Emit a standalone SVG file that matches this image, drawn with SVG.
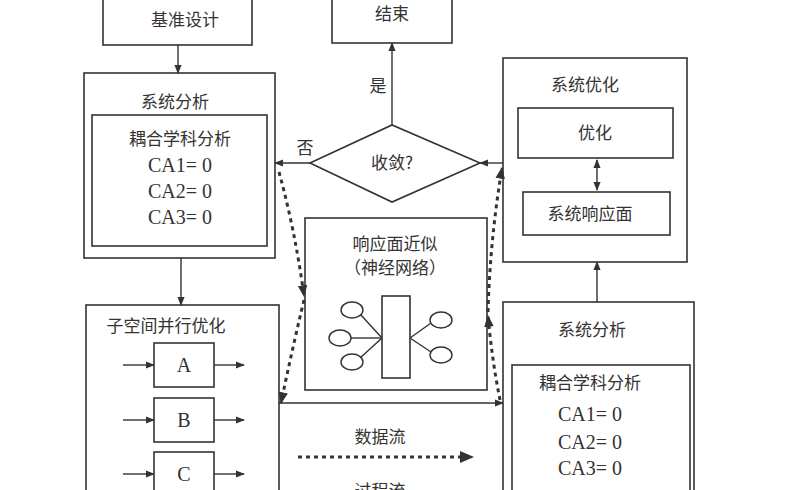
<svg xmlns="http://www.w3.org/2000/svg" width="785" height="490" viewBox="0 0 785 490">
<style>
.b{fill:#fff;stroke:#333;stroke-width:1.6}
.l{fill:none;stroke:#333;stroke-width:1.4}
.d{fill:none;stroke:#333;stroke-width:3;stroke-dasharray:4 4}
text{font-family:"Noto Sans CJK SC","Liberation Serif",serif;font-size:17px;fill:#333;text-anchor:middle}
.ca{font-family:"Liberation Serif",serif;font-size:20px}
</style>
<defs>
<marker id="a" viewBox="0 0 10 10" refX="9" refY="5" markerWidth="9" markerHeight="9" markerUnits="userSpaceOnUse" orient="auto-start-reverse"><path d="M0,1L10,5L0,9z" fill="#333"/></marker>
<marker id="ab" viewBox="0 0 10 10" refX="9" refY="5" markerWidth="12" markerHeight="12" markerUnits="userSpaceOnUse" orient="auto-start-reverse"><path d="M0,1L10,5L0,9z" fill="#333"/></marker>
</defs>
<rect width="785" height="490" fill="#fff"/>
<g id="n-base"><rect class="b" x="103" y="-5" width="149" height="50"/><text x="185" y="26">基准设计</text></g>
<g id="n-end"><rect class="b" x="332" y="-5" width="120" height="48"/><text x="392" y="20">结束</text></g>
<g id="n-sa1"><rect class="b" x="84" y="73" width="191" height="185"/><text x="175" y="108">系统分析</text>
<rect class="b" x="92" y="115" width="175" height="131"/><text x="180" y="145">耦合学科分析</text>
<text class="ca" x="180" y="172">CA1= 0</text><text class="ca" x="180" y="198">CA2= 0</text><text class="ca" x="180" y="224">CA3= 0</text></g>
<g id="n-conv"><polygon class="b" points="310,163 392,125 480,163 392,202"/><text x="392" y="169">收敛?</text></g>
<g id="n-sysopt"><rect class="b" x="503" y="58" width="184" height="204"/><text x="585" y="91">系统优化</text>
<rect class="b" x="518" y="108" width="155" height="50"/><text x="595" y="139">优化</text>
<rect class="b" x="523" y="192" width="147" height="43"/><text x="590" y="220">系统响应面</text></g>
<g id="n-rs"><rect class="b" x="305" y="218" width="182" height="172"/><text x="395" y="250">响应面近似</text><text x="395" y="274">（神经网络）</text>
<g class="l"><line x1="382" y1="338" x2="360" y2="314"/><line x1="382" y1="338" x2="351" y2="338"/><line x1="382" y1="338" x2="360" y2="358"/><line x1="410" y1="338" x2="431" y2="323"/><line x1="410" y1="338" x2="431" y2="352"/>
<ellipse cx="352" cy="310" rx="11" ry="8" fill="#fff"/><ellipse cx="340" cy="338" rx="11" ry="8" fill="#fff"/><ellipse cx="352" cy="362" rx="11" ry="8" fill="#fff"/><ellipse cx="441" cy="320" rx="11" ry="8" fill="#fff"/><ellipse cx="441" cy="355" rx="11" ry="8" fill="#fff"/></g>
<rect class="b" x="382" y="296" width="28" height="82"/></g>
<g id="n-sub"><rect class="b" x="86" y="305" width="193" height="200"/><text x="166" y="332">子空间并行优化</text>
<rect class="b" x="154" y="343" width="60" height="44"/><text class="ca" x="184" y="372">A</text>
<rect class="b" x="154" y="398" width="60" height="44"/><text class="ca" x="184" y="427">B</text>
<rect class="b" x="154" y="452" width="60" height="48"/><text class="ca" x="184" y="481">C</text></g>
<g id="n-sa2"><rect class="b" x="503" y="302" width="191" height="200"/><text x="592" y="336">系统分析</text>
<rect class="b" x="512" y="365" width="178" height="135"/><text x="590" y="389">耦合学科分析</text>
<text class="ca" x="590" y="421">CA1= 0</text><text class="ca" x="590" y="449">CA2= 0</text><text class="ca" x="590" y="475">CA3= 0</text></g>
<g id="legend"><text x="380" y="443">数据流</text><line class="d" x1="298" y1="457" x2="462" y2="457"/><path d="M460,451L474,457L460,463z" fill="#333"/><text x="380" y="497">过程流</text></g>
<g id="connectors" class="l" marker-end="url(#a)">
<line x1="178" y1="45" x2="178" y2="73"/>
<line x1="392" y1="125" x2="392" y2="43"/>
<line x1="310" y1="163" x2="275" y2="163"/>
<line x1="503" y1="163" x2="480" y2="163"/>
<line x1="597" y1="160" x2="597" y2="190" marker-start="url(#a)"/>
<line x1="597" y1="302" x2="597" y2="262"/>
<line x1="181" y1="258" x2="181" y2="305"/>
<line x1="279" y1="403" x2="503" y2="403"/>
<line x1="123" y1="365" x2="154" y2="365"/><line x1="214" y1="365" x2="244" y2="365"/>
<line x1="123" y1="420" x2="154" y2="420"/><line x1="214" y1="420" x2="244" y2="420"/>
<line x1="123" y1="474" x2="154" y2="474"/><line x1="214" y1="474" x2="244" y2="474"/>
<path class="d" d="M279,172 Q295,230 304,296" marker-end="url(#ab)"/>
<path class="d" d="M304,300 Q292,350 281,403" marker-end="url(#ab)"/>
<path class="d" d="M500,400 Q492,360 488,316" marker-end="url(#ab)"/>
<path class="d" d="M488,312 Q490,240 502,168" marker-end="url(#ab)"/>
</g>
<text x="378" y="92">是</text><text x="305" y="154">否</text>
</svg>
